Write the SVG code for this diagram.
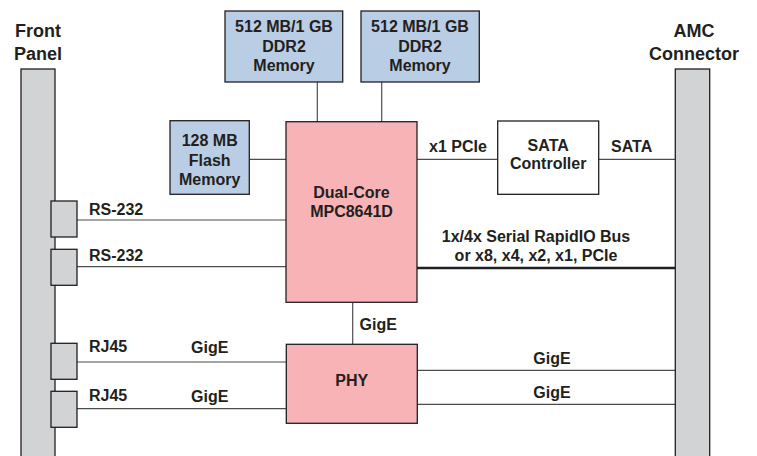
<svg xmlns="http://www.w3.org/2000/svg" width="757" height="456" viewBox="0 0 757 456">
<style>
text{font-family:"Liberation Sans",Arial,sans-serif;font-weight:bold;font-size:16px;fill:#231F20}
.h{font-size:18px;text-anchor:middle}
.c{text-anchor:middle}
.blue{fill:#B9CDE5;stroke:#231F20;stroke-width:1.3}
.pink{fill:#F8B3B6;stroke:#231F20;stroke-width:1.3}
.gray{fill:#D1D3D4;stroke:#231F20;stroke-width:1.3}
.white{fill:#fff;stroke:#231F20;stroke-width:1.3}
.ln{stroke:#4D4D4F;stroke-width:1.2;fill:none}
.bus{stroke:#231F20;stroke-width:2.4;fill:none}
</style>
<rect width="757" height="456" fill="#fff"/>
<g id="connectors">
<line class="ln" x1="317.3" y1="82" x2="317.3" y2="122"/>
<line class="ln" x1="381.7" y1="82" x2="381.7" y2="122"/>
<line class="ln" x1="249" y1="159.3" x2="286" y2="159.3"/>
<line class="ln" x1="77" y1="220" x2="286" y2="220"/>
<line class="ln" x1="77" y1="266.7" x2="286" y2="266.7"/>
<line class="ln" x1="417" y1="159.3" x2="498" y2="159.3"/>
<line class="ln" x1="599" y1="159.3" x2="675" y2="159.3"/>
<line class="bus" x1="417" y1="268" x2="675" y2="268"/>
<line class="ln" x1="352.7" y1="302" x2="352.7" y2="344"/>
<line class="ln" x1="77" y1="362" x2="286" y2="362"/>
<line class="ln" x1="77" y1="408.7" x2="286" y2="408.7"/>
<line class="ln" x1="417" y1="370.3" x2="675" y2="370.3"/>
<line class="ln" x1="417" y1="404.3" x2="675" y2="404.3"/>
<text x="89" y="215">RS-232</text>
<text x="89" y="261">RS-232</text>
<text x="89" y="352">RJ45</text>
<text x="89" y="401">RJ45</text>
<text x="191" y="353">GigE</text>
<text x="191" y="402">GigE</text>
<text x="429" y="152">x1 PCIe</text>
<text x="611" y="152">SATA</text>
<text class="c" x="536" y="242">1x/4x Serial RapidIO Bus</text>
<text class="c" x="536" y="260.5">or x8, x4, x2, x1, PCIe</text>
<text x="359.5" y="330">GigE</text>
<text class="c" x="552" y="364">GigE</text>
<text class="c" x="552" y="398">GigE</text>
</g>
<g id="front-panel">
<rect class="gray" x="21" y="69" width="34" height="400"/>
<text class="h" x="38" y="36.5">Front</text>
<text class="h" x="38" y="60">Panel</text>
</g>
<g id="port-rs232-1"><rect class="gray" x="51" y="201" width="26" height="36"/></g>
<g id="port-rs232-2"><rect class="gray" x="51" y="249.3" width="26" height="36"/></g>
<g id="port-rj45-1"><rect class="gray" x="51" y="343.3" width="26" height="36"/></g>
<g id="port-rj45-2"><rect class="gray" x="51" y="391.3" width="26" height="36"/></g>
<g id="amc-connector">
<rect class="gray" x="675.3" y="69" width="34.4" height="400"/>
<text class="h" x="694" y="36.5">AMC</text>
<text class="h" x="694" y="60">Connector</text>
</g>
<g id="ddr2-1">
<rect class="blue" x="225" y="11" width="117.7" height="71"/>
<text class="c" x="284" y="32.3">512 MB/1 GB</text>
<text class="c" x="284" y="51.7">DDR2</text>
<text class="c" x="284" y="71">Memory</text>
</g>
<g id="ddr2-2">
<rect class="blue" x="361" y="11" width="118.3" height="71"/>
<text class="c" x="420" y="32.3">512 MB/1 GB</text>
<text class="c" x="420" y="51.7">DDR2</text>
<text class="c" x="420" y="71">Memory</text>
</g>
<g id="flash">
<rect class="blue" x="170" y="120.7" width="79.3" height="73.6"/>
<text class="c" x="209.7" y="145.7">128 MB</text>
<text class="c" x="209.7" y="165.7">Flash</text>
<text class="c" x="209.7" y="185">Memory</text>
</g>
<g id="cpu">
<rect class="pink" x="286" y="121.7" width="131" height="180.6"/>
<text class="c" x="351.5" y="198">Dual-Core</text>
<text class="c" x="351.5" y="217">MPC8641D</text>
</g>
<g id="sata-controller">
<rect class="white" x="497.7" y="121" width="101" height="73.3"/>
<text class="c" x="548.2" y="150.7">SATA</text>
<text class="c" x="548.2" y="169">Controller</text>
</g>
<g id="phy">
<rect class="pink" x="286.3" y="344.3" width="131" height="79"/>
<text class="c" x="351.8" y="386">PHY</text>
</g>
</svg>
